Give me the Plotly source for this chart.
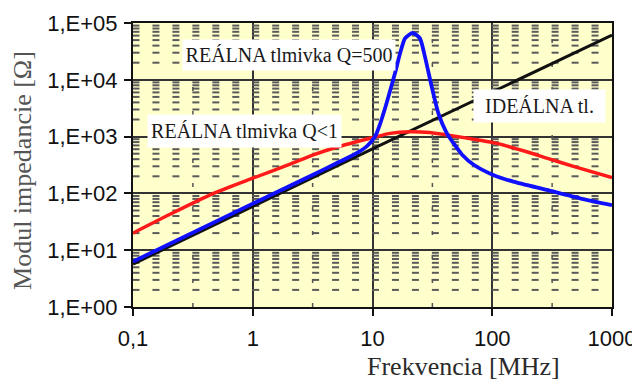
import plotly.graph_objects as go

# ---- data ----
ideal_f = [0.1, 1, 10, 100, 1000]
ideal_z = [5.7, 59, 610, 6100, 61000]

q500_f = [0.1, 1, 3, 5, 7, 9, 10.5, 11.6, 13.1, 15.4, 17.0, 18.7, 21.7, 24.9,
          27.4, 31.2, 35.5, 41.7, 48, 56, 70, 102, 150, 285, 541, 1000]
q500_z = [6.3, 66, 200, 340, 480, 680, 1000, 1700, 3860, 13000, 29300, 53700,
          67000, 53700, 25600, 7600, 2570, 1150, 740, 480, 320, 211, 161, 115, 82, 62]

q1_f = [0.1, 0.2, 0.47, 1, 2, 3.2, 5, 8.4, 14, 20.6, 30, 41.7, 60, 109, 200,
        285, 500, 1000]
q1_z = [20, 42, 100, 185, 320, 475, 650, 870, 1140, 1220, 1180, 1070, 950,
        760, 530, 417, 290, 190]

x_tickvals = [0.1, 1, 10, 100, 1000]
x_ticktext = ["0,1", "1", "10", "100", "1000"]
y_tickvals = [1, 10, 100, 1000, 10000, 100000]
y_ticktext = ["1,E+00", "1,E+01", "1,E+02", "1,E+03", "1,E+04", "1,E+05"]

label_q500 = "REÁLNA tlmivka Q=500"
label_q1 = "REÁLNA tlmivka Q<1"
label_ideal = "IDEÁLNA tl."
x_title = "Frekvencia [MHz]"
y_title = "Modul impedancie [Ω]"

# background dash pattern (decorative grid): columns evenly spaced in log-x,
# rows at log minor positions of y
decades_x = [-1, 0, 1, 2]
cols_per_decade = 6
decades_y = [0, 1, 2, 3, 4]
minor_mult = [2, 3, 4, 5, 6, 7, 8, 9]

gx, gy = [], []
for d in decades_x:
    for k in range(cols_per_decade):
        xv = 10 ** (d + 0.025 + k / cols_per_decade)
        for dy in decades_y:
            for m in minor_mult:
                gx.append(xv)
                gy.append(m * 10 ** dy)

fig = go.Figure()

fig.add_trace(go.Scatter(
    x=gx, y=gy, mode="markers", hoverinfo="skip", showlegend=False,
    marker=dict(symbol="line-ew", size=5, line=dict(width=2, color="#5a5a5a"))
))

# sparse vertical dashes at half-decades
for d in decades_x:
    xv = 10 ** (d + 0.5)
    fig.add_trace(go.Scatter(
        x=[xv, xv], y=[1, 100000], mode="lines", hoverinfo="skip", showlegend=False,
        line=dict(color="#555555", width=1.5, dash="4px,20px")
    ))

fig.add_trace(go.Scatter(x=ideal_f, y=ideal_z, mode="lines", showlegend=False,
                         line=dict(color="#111111", width=3)))
fig.add_trace(go.Scatter(x=q1_f, y=q1_z, mode="lines", showlegend=False,
                         line=dict(color="#ff1a1a", width=3.5, shape="spline", smoothing=0.6)))
fig.add_trace(go.Scatter(x=q500_f, y=q500_z, mode="lines", showlegend=False,
                         line=dict(color="#1010ff", width=3.8, shape="spline", smoothing=0.6)))

serif = "Liberation Serif, Times New Roman, serif"
sans = "Liberation Sans, Arial, sans-serif"

# page body has an 8px default margin, so the figure is shrunk by 8px
fig.update_layout(
    width=632, height=373,
    margin=dict(l=125, r=28, t=15, b=74, autoexpand=False),
    paper_bgcolor="white",
    plot_bgcolor="#ffffcc",
    xaxis=dict(type="log", range=[-1, 3], tickvals=x_tickvals, ticktext=x_ticktext,
               automargin=False,
               showgrid=True, gridcolor="#333333", gridwidth=1.5,
               showline=True, linecolor="#111111", linewidth=2, mirror=True,
               ticks="outside", ticklen=7, tickwidth=2, tickcolor="#111111",
               tickfont=dict(family=sans, size=22, color="#111111"),
               ticklabelstandoff=4, zeroline=False),
    yaxis=dict(type="log", range=[0, 5], tickvals=y_tickvals, ticktext=y_ticktext,
               automargin=False,
               showgrid=True, gridcolor="#333333", gridwidth=1.5,
               showline=True, linecolor="#111111", linewidth=2, mirror=True,
               ticks="outside", ticklen=7, tickwidth=2, tickcolor="#111111",
               tickfont=dict(family=sans, size=22, color="#111111"),
               ticklabelstandoff=2, zeroline=False),
    annotations=[
        dict(text=label_q500, xref="paper", yref="paper", x=0.326, y=0.887,
             xanchor="center", yanchor="middle",
             showarrow=False, bgcolor="white", width=212, height=30, borderpad=0,
             font=dict(family=serif, size=20, color="#1a1a1a")),
        dict(text=label_q1, xref="paper", yref="paper", x=0.233, y=0.620,
             xanchor="center", yanchor="middle",
             showarrow=False, bgcolor="white", width=193, height=32, borderpad=0,
             font=dict(family=serif, size=20, color="#1a1a1a")),
        dict(text=label_ideal, xref="paper", yref="paper", x=0.849, y=0.708,
             xanchor="center", yanchor="middle",
             showarrow=False, bgcolor="white", width=131, height=32, borderpad=0,
             font=dict(family=serif, size=20, color="#1a1a1a")),
        dict(text=x_title, xref="paper", yref="paper", x=0.689, y=-0.211,
             xanchor="center", yanchor="middle",
             showarrow=False, font=dict(family=serif, size=26, color="#2a2a2a")),
        dict(text=y_title, xref="paper", yref="paper", x=-0.232, y=0.482,
             xanchor="center", yanchor="middle",
             textangle=-90, showarrow=False,
             font=dict(family=serif, size=26, color="#555555")),
    ],
)

fig.write_html("out.html")
